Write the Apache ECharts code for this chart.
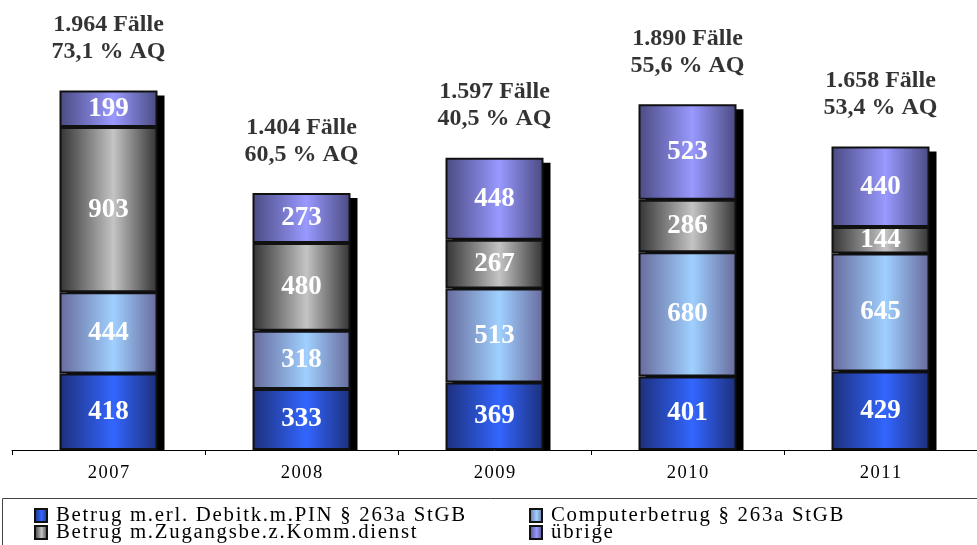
<!DOCTYPE html>
<html><head><meta charset="utf-8">
<script src="https://cdn.jsdelivr.net/npm/echarts@6/dist/echarts.min.js"></script>
<style>html,body{margin:0;padding:0;background:#fff}#c{width:977px;height:545px}</style>
</head><body><div id="c"></div>
<script>
const years = ['2007','2008','2009','2010','2011'];
const pinBetrug = [418,333,369,401,429];
const computerBetrug = [444,318,513,680,645];
const zugangBetrug = [903,480,267,286,144];
const uebrige = [199,273,448,523,440];
const totals = [1964,1404,1597,1890,1658];
const aq = ['73,1','60,5','40,5','55,6','53,4'];
const seriesNames = ['Betrug m.erl. Debitk.m.PIN § 263a StGB','Computerbetrug § 263a StGB','Betrug m.Zugangsbe.z.Komm.dienst','übrige'];

function grad(edge, mid){
  return {type:'linear',x:0,y:0,x2:1,y2:0,colorStops:[{offset:0,color:edge},{offset:0.55,color:mid},{offset:1,color:edge}]};
}
const fills = [grad('#1c2f7a','#3366ff'), grad('#676a9c','#9fd0ff'), grad('#333333','#c4c4c4'), grad('#4a4a82','#9999ff')];
const serif = '"Liberation Serif","Times New Roman",serif';
const BW = 98;
const spaced = s => s.split('').join('\u200A');

function fmtThousands(n){ return String(n).replace(/\B(?=(\d{3})+(?!\d))/g,'.'); }

const stackData = [pinBetrug, computerBetrug, zugangBetrug, uebrige];
const barSeries = stackData.map((d,i)=>({
  name: seriesNames[i], type:'bar', stack:'t', barWidth:BW, z:3,
  data:d,
  itemStyle:{color:fills[i], borderColor:'#111', borderWidth:2},
  label:{show:true, position:'inside', color:'#fff', fontFamily:serif, fontWeight:'bold', fontSize:27}
}));

const legendBase = {orient:'vertical', top:505, padding:0, height:120, itemGap:-4, itemWidth:12, itemHeight:13, icon:'rect',
  formatter: spaced,
  textStyle:{fontFamily:serif, fontSize:20.8, color:'#000', padding:[0,0,0,4]}};

const chart = echarts.init(document.getElementById('c'));
chart.setOption({
  animation:false,
  grid:{left:12, right:-10, top:84, bottom:95},
  xAxis:{type:'category', data:years,
    axisLine:{lineStyle:{color:'#000', width:1}},
    axisTick:{show:true, length:5, lineStyle:{color:'#000'}},
    axisLabel:{color:'#000', fontFamily:serif, fontSize:18.5, margin:14, formatter:spaced}},
  yAxis:{type:'value', min:0, max:2000, show:false, splitLine:{show:false}},
  legend:[
    Object.assign({}, legendBase, {left:34, data:[seriesNames[0], seriesNames[2]]}),
    Object.assign({}, legendBase, {left:529, data:[seriesNames[1], seriesNames[3]]})
  ],
  graphic:[{type:'rect', left:0, top:496, shape:{x:0,y:0,width:1000, height:60}, style:{fill:'none', stroke:'#444', lineWidth:1}, silent:true}],
  series:[
    {type:'custom', z:1, silent:true,
     data: totals.map((t,i)=>[i,t]),
     renderItem:(params, api)=>{
       const top = api.coord([api.value(0), api.value(1)]);
       const base = api.coord([api.value(0), 0]);
       return {type:'rect', shape:{x:top[0]-BW/2+7, y:top[1]+5, width:BW, height:base[1]-top[1]-5},
               style:{fill:'#000'}};
     }},
    ...barSeries,
    {type:'scatter', z:5, silent:true, symbolSize:0,
     data: totals,
     label:{show:true, position:'top', distance:25, color:'#000', fontFamily:serif, fontWeight:'bold', fontSize:24, lineHeight:27, align:'center',
       formatter:p=>fmtThousands(totals[p.dataIndex])+' Fälle\n'+aq[p.dataIndex]+' % AQ'}}
  ]
});
</script></body></html>
